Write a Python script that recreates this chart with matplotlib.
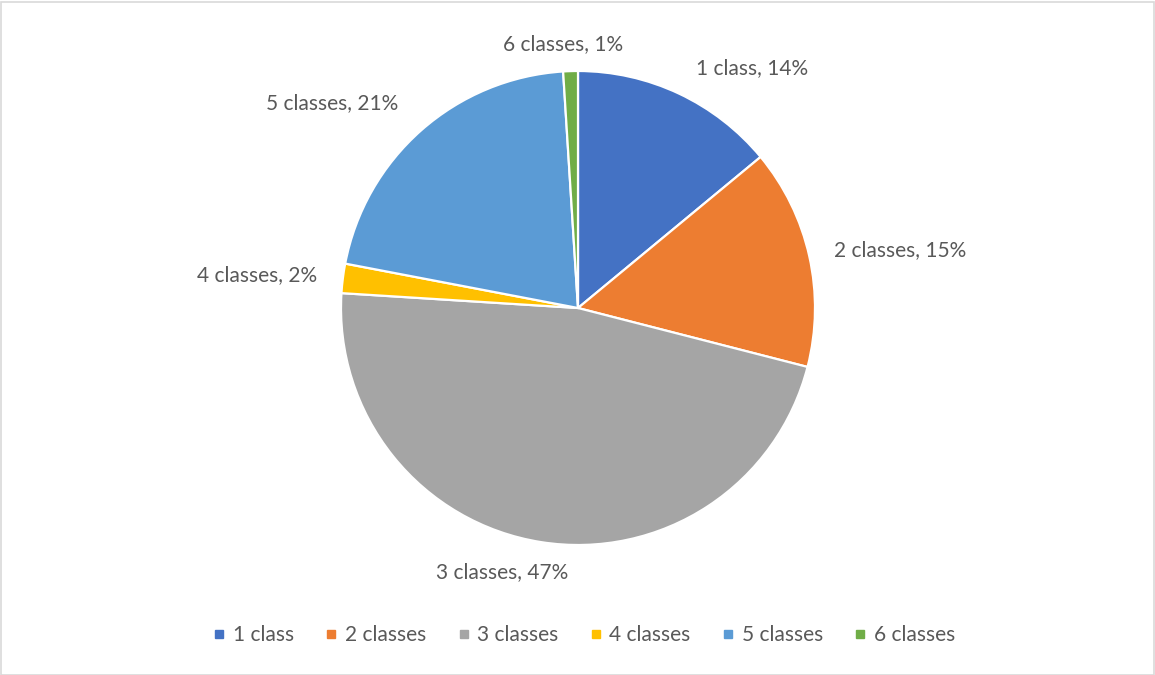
import numpy as np
import matplotlib.pyplot as plt
from matplotlib.lines import Line2D
from matplotlib.patches import Rectangle

categories = ['1 class', '2 classes', '3 classes', '4 classes', '5 classes', '6 classes']
shares = [14, 15, 47, 2, 21, 1]
colors = ['#4472C4', '#ED7D31', '#A5A5A5', '#FFC000', '#5B9BD5', '#70AD47']

# label placement: angle from 12 o'clock (clockwise, degrees) and distance in radii
label_angle = [35.9, 79.8, 196.0, 275.9, 309.8, 356.7]
label_dist = [1.25, 1.38, 1.16, 1.36, 1.35, 1.115]

plt.rcParams['font.family'] = ['Lato', 'DejaVu Sans']
text_color = '#595959'
fs = 15

W, H = 1155, 675
fig = plt.figure(figsize=(W / 100, H / 100), dpi=100)
ax = fig.add_axes([0, 0, 1, 1])

ax.pie(shares, colors=colors, startangle=90, counterclock=False, radius=1,
       wedgeprops=dict(edgecolor='white', linewidth=1.6))

# pie centre and radius in pixels (limits set after pie, which resets them)
cx, cy, r = 578, 308, 237
ax.set_xlim(-cx / r, (W - cx) / r)
ax.set_ylim(-(H - cy) / r, cy / r)
ax.axis('off')

for cat, val, ang, d in zip(categories, shares, label_angle, label_dist):
    a = np.deg2rad(ang)
    ax.text(d * np.sin(a), d * np.cos(a), f'{cat}, {val}%', ha='center', va='center',
            fontsize=fs, color=text_color)

handles = [Line2D([], [], marker='s', linestyle='none', markersize=5.5,
                  markerfacecolor=c, markeredgecolor=c) for c in colors]
fig.legend(handles, categories, loc='center', bbox_to_anchor=(583 / W, 1 - 635 / H),
           ncol=6, frameon=False, fontsize=fs, labelcolor=text_color,
           handletextpad=0.25, columnspacing=1.4, handlelength=0.8)

# chart area border
fig.patches.append(Rectangle((0.5 / W, 0.5 / H), 1 - 2 / W, 1 - 2 / H, transform=fig.transFigure,
                             fill=False, edgecolor='#D9D9D9', linewidth=1.2))

fig.savefig('out.png', dpi=100)
